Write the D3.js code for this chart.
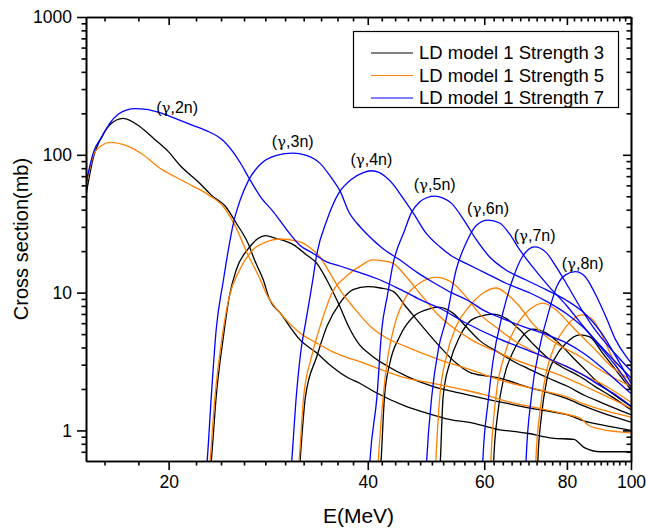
<!DOCTYPE html>
<html>
<head>
<meta charset="utf-8">
<script src="https://cdn.jsdelivr.net/npm/d3@7"></script>
<style>
  body { margin: 0; background: #fff; }
  text { font-family: Arial, "Liberation Sans", sans-serif; fill: #000; }
</style>
</head>
<body>
<svg id="chart" width="646" height="530"></svg>
<script>
// Photonuclear (γ,xn) cross sections, [E (MeV), σ (mb)] pairs per channel.
// Strength 3 (black)
const s3_2n = [[15,51],[15.4,97],[15.85,135],[16.3,165],[17.07,184],[18.1,160],[19.0,131],[20.0,105],[20.8,84],[22.3,62],[23.2,51],[24.4,42],[25.3,32],[26.4,22.5],[27.0,17],[27.8,12.4],[28.4,9],[29.5,7.1],[31.6,4.54],[33.5,3.64],[35.3,2.91],[37.4,2.4],[38.9,2.2],[41,1.9],[45.6,1.5],[49,1.34],[52.4,1.22],[57.7,1.13],[63.3,1.01],[67,0.98],[70,0.95],[76,0.88],[82,0.86],[85,0.75],[90,0.7],[100,0.7]];
const s3_3n = [[23.0,0.4],[23.2,0.6],[23.6,1.76],[24.2,4.8],[24.7,9.35],[25.3,14.6],[26.4,20.9],[27.3,24.7],[28.0,25.9],[29.1,24.7],[30.9,22.2],[32.3,18.8],[33.5,16.3],[34.7,12.3],[36.1,8.4],[37.4,5.7],[38.7,4.3],[40.5,3.5],[43,2.9],[46,2.45],[50,2.1],[55,1.87],[60,1.7],[65,1.57],[70,1.46],[75,1.38],[80,1.3],[85,1.17],[90,1.1],[100,1.0]];
const s3_4n = [[31.4,0.4],[31.6,0.6],[32.2,1.76],[33.5,3.44],[34.7,5.7],[36.3,8.4],[38.0,10.5],[40.0,11.05],[41.8,10.8],[43.7,10.2],[45.7,7.9],[48.4,5.67],[51.4,4.06],[54.4,3.08],[57.4,2.6],[63.3,2.4],[70,2.05],[75,1.88],[80,1.7],[85,1.5],[90,1.35],[100,1.15]];
const s3_5n = [[41.7,0.4],[41.9,0.6],[42.4,1.76],[43.2,3.08],[44.7,4.8],[46.9,6.7],[49,7.5],[51.1,7.84],[53.8,7.1],[56.3,5.67],[58.9,4.54],[63.3,3.64],[67,3.1],[70,2.8],[75,2.4],[80,2.1],[85,1.8],[90,1.6],[100,1.3]];
const s3_6n = [[51.3,0.4],[51.5,0.6],[52.0,1.76],[53.2,3.08],[55.1,4.8],[57.4,6.34],[60.4,6.9],[61.8,6.97],[64.7,6.5],[67.9,5.37],[70.9,4.3],[74.4,3.44],[78.5,2.9],[83.7,2.46],[88.3,2.08],[93.5,1.76],[100,1.41]];
const s3_7n = [[61.8,0.4],[62.0,0.6],[62.9,1.34],[64.3,2.46],[66.2,3.64],[68.5,4.8],[71.0,5.43],[74.4,5.1],[77.8,4.3],[81.4,3.44],[85.3,2.75],[89.4,2.2],[93.5,1.87],[100,1.49]];
const s3_8n = [[72.1,0.4],[72.3,0.6],[73.2,1.26],[74.6,2.33],[77,3.44],[79.8,4.3],[83.7,4.94],[86.5,4.8],[90.6,3.64],[94.8,2.75],[100,1.97]];

// Strength 5 (orange)
const s5_2n = [[15,58],[15.4,100],[15.8,116],[16.3,123],[17.3,116],[18.3,100],[19.4,80],[20.5,69],[21.8,59],[23.0,51],[24.2,42],[25.1,31.8],[26.4,18.5],[27.5,12.5],[28.1,9.8],[29.5,7.1],[31.6,5.1],[33.5,4.3],[35.3,3.75],[37.4,3.35],[38.9,3.16],[42,2.75],[45,2.45],[50,2.2],[55,2.0],[60,1.82],[65,1.62],[70,1.5],[76,1.38],[82,1.27],[84,1.22],[86,1.1],[90,1.02],[100,0.96]];
const s5_3n = [[22.9,0.4],[23.1,0.6],[23.5,1.76],[24.1,4.8],[24.7,9.35],[25.6,14.6],[26.8,20.4],[28.3,23.6],[29.4,24.5],[31.3,23.6],[32.8,21],[33.85,18.2],[35.3,13.1],[36.6,9.9],[38.0,7.9],[38.9,6.9],[40.5,5.6],[42.3,4.8],[45.7,4.06],[51.4,3.25],[57.3,2.75],[63.3,2.33],[70,2.05],[75,1.9],[80,1.75],[85,1.55],[90,1.42],[100,1.25]];
const s5_4n = [[31.3,0.4],[31.5,0.6],[32.0,1.76],[32.9,3.44],[34.0,6.0],[35.3,9.9],[37.1,13.1],[38.9,15.5],[40.7,17.3],[42.2,17.0],[43.7,16.3],[45.7,13.1],[48.4,9.35],[51.4,6.7],[54.4,5.37],[57.4,4.54],[63.3,3.64],[70,3.0],[75,2.7],[80,2.4],[85,2.1],[90,1.85],[100,1.45]];
const s5_5n = [[41.3,0.4],[41.5,0.6],[42.2,1.76],[42.9,3.44],[44.0,6.0],[45.7,9.35],[47.9,11.7],[50.8,12.9],[53.8,11.7],[56.3,9.35],[58.9,7.1],[63.3,5.37],[67,4.4],[70,3.9],[75,3.3],[80,2.9],[85,2.5],[90,2.2],[100,1.6]];
const s5_6n = [[50.5,0.4],[50.7,0.6],[51.4,1.76],[52.6,3.44],[54.4,5.67],[56.9,7.9],[59.7,9.9],[62.6,10.8],[64.7,9.9],[67.9,7.9],[70.9,6.0],[74.4,4.8],[78.5,4.06],[83.7,3.44],[88.3,2.9],[93.5,2.46],[100,2.08]];
const s5_7n = [[61.2,0.4],[61.4,0.6],[62.5,1.76],[64.3,3.44],[67,5.67],[70.2,7.5],[73.6,8.38],[77,7.5],[80.6,6.0],[84.3,4.8],[88.3,3.85],[93.5,2.9],[100,2.33]];
const s5_8n = [[71.6,0.4],[71.8,0.6],[72.8,1.34],[74.4,2.6],[77,4.3],[79.8,5.67],[84.2,6.89],[87.6,6.34],[90.6,4.8],[93.5,3.44],[96.5,2.6],[100,2.08]];

// Strength 7 (blue)
const s7_2n = [[15,62],[15.4,105],[15.85,135],[16.3,170],[16.8,198],[17.3,212],[17.8,216],[18.5,214],[19.4,202],[20.5,183],[21.8,163],[23.0,147],[24.0,131],[25.1,103],[25.8,84],[26.4,69],[27.5,50],[28.8,38.5],[30.2,28.4],[31.6,22],[33.0,19.4],[34.6,16.8],[36.3,15.6],[38.5,14.2],[41.7,12.4],[44.7,10.6],[48.0,8.9],[51.4,7.7],[56.0,6.1],[63.3,4.6],[70,3.8],[80,2.9],[85,2.5],[90,2.1],[95,1.8],[100,1.5]];
const s7_3n = [[22.7,0.4],[22.87,0.6],[23.2,1.76],[23.6,5.4],[24.2,12.3],[24.6,20],[25.1,33],[25.7,48],[26.4,65],[27.5,85],[29.1,99],[30.8,103],[32.3,99],[33.85,87],[35.4,66],[36.3,55],[37.5,38],[38.5,32],[39.7,27.2],[42.1,21],[44.7,17.3],[47.6,13.9],[50.5,11.7],[53.6,9.95],[56.9,8.7],[59.7,7.5],[63.3,6.6],[70,5.5],[75,4.9],[80,4.3],[85,3.6],[90,2.9],[95,2.3],[100,1.85]];
const s7_4n = [[30.5,0.4],[30.7,0.6],[31.2,1.8],[31.7,3.8],[32.3,6.5],[33.0,12],[33.5,19],[34.7,33.6],[36.1,52],[37.9,67],[39.3,74],[40.5,76.6],[41.6,74.5],[42.6,69],[43.7,61],[44.7,52.6],[46.9,37.6],[49,27],[51.4,21.5],[53.8,18.2],[56.3,16.3],[60.4,13.8],[64.7,11.7],[70.5,9.9],[75,8.5],[80,7.0],[85,5.5],[90,4.0],[95,2.9],[100,2.05]];
const s7_5n = [[40.1,0.4],[40.3,0.6],[41.3,1.76],[42.0,5.4],[42.8,9.35],[43.7,16.3],[45.5,28.5],[46.5,37.6],[47.9,45.5],[49.2,49],[50.5,50.2],[52,48.5],[53.5,44.6],[55.9,33.6],[58.4,24.1],[61.1,18.2],[64.7,14.6],[69.3,12.4],[74.4,10.5],[79.7,8.85],[85.3,7.0],[90,5.2],[95,3.4],[100,2.2]];
const s7_6n = [[48.9,0.4],[49.1,0.6],[50.0,1.8],[51.2,4.0],[52.5,6.3],[54.4,14.6],[56.3,22.8],[58.4,30.8],[60.8,33.6],[63.3,32],[65.4,27],[67.9,20.4],[70.9,15.5],[75,11.2],[80,8.0],[85,5.6],[90,4.1],[95,3.1],[100,2.4]];
const s7_7n = [[59.5,0.4],[59.7,0.6],[60.8,1.6],[61.8,3.1],[64,7.1],[66.2,12.4],[68.5,18.2],[71.5,21.5],[74.4,19.6],[77,15.5],[79.8,11.7],[83.7,7.9],[87.5,5.7],[91.6,4.3],[96.2,3.3],[100,2.7]];
const s7_8n = [[69.2,0.4],[69.4,0.6],[70.7,1.76],[72.8,4.06],[75.0,7.1],[77.2,11.05],[79.5,13.4],[82.4,14.2],[85.2,13.1],[88.2,9.9],[91.6,6.7],[94.8,4.54],[98.3,3.44],[100,3.1]];

const seriesNames = ["LD model 1 Strength 3", "LD model 1 Strength 5", "LD model 1 Strength 7"];
const seriesColors = ["#000000", "#ff8000", "#0000ff"];
const seriesCurves = [
  [s3_2n, s3_3n, s3_4n, s3_5n, s3_6n, s3_7n, s3_8n],
  [s5_2n, s5_3n, s5_4n, s5_5n, s5_6n, s5_7n, s5_8n],
  [s7_2n, s7_3n, s7_4n, s7_5n, s7_6n, s7_7n, s7_8n]
];

// Channel labels, placed over the strength-7 curves at these energies
const channelLabels = ["2n", "3n", "4n", "5n", "6n", "7n", "8n"];
const channelLabelE = [20.6, 30.8, 40.5, 50.5, 60.8, 71.5, 84.5];

const xMajorTicks = [20, 40, 60, 80, 100];
const xMinorTicks = d3.range(16, 100, 2).filter(d => !xMajorTicks.includes(d));
const yMajorTicks = [1, 10, 100, 1000];
const yMinorTicks = [0.7, 0.8, 0.9].concat(
  ...[1, 10, 100].map(dec => d3.range(2, 10).map(k => k * dec)));

// Layout
const W = 646, H = 530;
const m = { left: 86, right: 15, top: 17, bottom: 69 };
const svg = d3.select("#chart");

const x = d3.scaleLog().domain([15, 100]).range([m.left, W - m.right]);
const y = d3.scaleLog().domain([0.6, 1000]).range([H - m.bottom, m.top]);

svg.append("defs").append("clipPath").attr("id", "plot-clip")
  .append("rect")
  .attr("x", x.range()[0]).attr("y", y.range()[1])
  .attr("width", x.range()[1] - x.range()[0])
  .attr("height", y.range()[0] - y.range()[1]);

// Curves
const line = d3.line()
  .x(d => x(d[0]))
  .y(d => y(d[1]))
  .curve(d3.curveMonotoneX);

const curvesG = svg.append("g").attr("clip-path", "url(#plot-clip)");
seriesCurves.forEach((curves, si) => {
  curvesG.append("g")
    .selectAll("path")
    .data(curves)
    .join("path")
    .attr("d", line)
    .attr("fill", "none")
    .attr("stroke", seriesColors[si])
    .attr("stroke-width", 1.3)
    .attr("stroke-linejoin", "round");
});

// Axes
const axisW = 1.6;
function styleAxis(g) {
  g.selectAll(".domain").attr("stroke", "#000").attr("stroke-width", axisW);
  g.selectAll(".tick line").attr("stroke", "#000").attr("stroke-width", axisW);
  g.selectAll(".tick text").style("font-size", "17.5px")
    .style("font-family", "Arial, 'Liberation Sans', sans-serif");
}
const yBase = y.range()[0], yTop = y.range()[1];
const xLeft = x.range()[0], xRight = x.range()[1];

// bottom
svg.append("g").attr("transform", `translate(0,${yBase})`)
  .call(d3.axisBottom(x).tickValues(xMinorTicks).tickSizeInner(4.5).tickSizeOuter(0).tickFormat(""))
  .call(styleAxis);
svg.append("g").attr("transform", `translate(0,${yBase})`)
  .call(d3.axisBottom(x).tickValues(xMajorTicks).tickSizeInner(9).tickSizeOuter(0)
    .tickPadding(6).tickFormat(d3.format("d")))
  .call(styleAxis);
// top (ticks inward)
svg.append("g").attr("transform", `translate(0,${yTop})`)
  .call(d3.axisTop(x).tickValues(xMinorTicks).tickSizeInner(-4.5).tickSizeOuter(0).tickFormat(""))
  .call(styleAxis);
svg.append("g").attr("transform", `translate(0,${yTop})`)
  .call(d3.axisTop(x).tickValues(xMajorTicks).tickSizeInner(-8).tickSizeOuter(0).tickFormat(""))
  .call(styleAxis);
// left
svg.append("g").attr("transform", `translate(${xLeft},0)`)
  .call(d3.axisLeft(y).tickValues(yMinorTicks).tickSizeInner(4.5).tickSizeOuter(0).tickFormat(""))
  .call(styleAxis);
svg.append("g").attr("transform", `translate(${xLeft},0)`)
  .call(d3.axisLeft(y).tickValues(yMajorTicks).tickSizeInner(9).tickSizeOuter(0)
    .tickPadding(5).tickFormat(d3.format("d")))
  .call(styleAxis);
// right (ticks inward)
svg.append("g").attr("transform", `translate(${xRight},0)`)
  .call(d3.axisRight(y).tickValues(yMinorTicks).tickSizeInner(-4.5).tickSizeOuter(0).tickFormat(""))
  .call(styleAxis);
svg.append("g").attr("transform", `translate(${xRight},0)`)
  .call(d3.axisRight(y).tickValues(yMajorTicks).tickSizeInner(-8).tickSizeOuter(0).tickFormat(""))
  .call(styleAxis);

// Axis titles
svg.append("text")
  .attr("x", (xLeft + xRight) / 2).attr("y", 523)
  .attr("text-anchor", "middle")
  .style("font-size", "21px")
  .text("E(MeV)");
svg.append("text")
  .attr("transform", `translate(28,${(yTop + yBase) / 2}) rotate(-90)`)
  .attr("text-anchor", "middle")
  .style("font-size", "20px")
  .text("Cross section(mb)");

// Channel labels on the strength-7 curves
function sigmaAt(curve, e) {
  const i = d3.bisector(d => d[0]).left(curve, e);
  if (i <= 0) return curve[0][1];
  if (i >= curve.length) return curve[curve.length - 1][1];
  const a = curve[i - 1], b = curve[i];
  const t = (Math.log(e) - Math.log(a[0])) / (Math.log(b[0]) - Math.log(a[0]));
  return Math.exp(Math.log(a[1]) + t * (Math.log(b[1]) - Math.log(a[1])));
}
channelLabels.forEach((lab, i) => {
  const e = channelLabelE[i];
  const s = sigmaAt(seriesCurves[2][i], e);
  const t = svg.append("text")
    .attr("x", x(e)).attr("y", y(s) - 6)
    .attr("text-anchor", "middle")
    .style("font-size", "16px");
  t.append("tspan").text("(");
  t.append("tspan").style("font-family", "'DejaVu Serif', 'Liberation Serif', serif")
    .style("font-size", "15px").text("γ");
  t.append("tspan").text("," + lab + ")");
});

// Legend
const lg = svg.append("g");
lg.append("rect")
  .attr("x", 353.5).attr("y", 31.5).attr("width", 265).attr("height", 76)
  .attr("fill", "#fff").attr("stroke", "#000").attr("stroke-width", 1.2);
seriesNames.forEach((name, i) => {
  const cy = 53 + i * 22.5;
  lg.append("line")
    .attr("x1", 371).attr("x2", 413).attr("y1", cy).attr("y2", cy)
    .attr("stroke", seriesColors[i]).attr("stroke-width", 1.2);
  lg.append("text")
    .attr("x", 419).attr("y", cy).attr("dy", "0.35em")
    .style("font-size", "18.5px")
    .text(name);
});
</script>
</body>
</html>
